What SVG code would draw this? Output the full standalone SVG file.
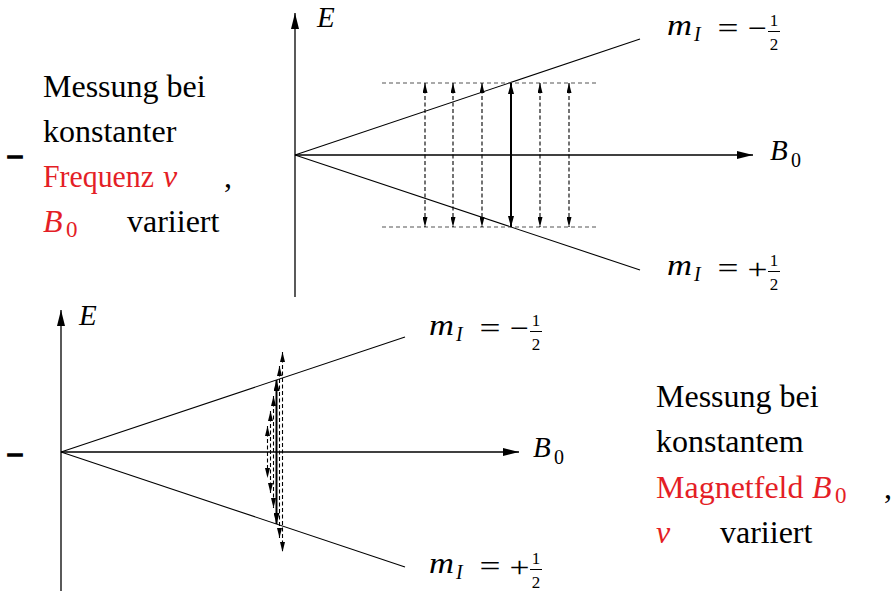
<svg xmlns="http://www.w3.org/2000/svg" width="895" height="591" viewBox="0 0 895 591" font-family="'Liberation Serif', 'DejaVu Serif', serif">
<style>
text{font-family:'Liberation Serif','DejaVu Serif',serif}
.t{font-size:32px;fill:#000}
.red{fill:#e41e26}
.it{font-style:italic}
.mi{font-size:29px;font-style:italic;fill:#000}
.sub{font-size:20px;fill:#000}
.mr{font-size:30px;fill:#000}
.fr{font-size:17px;fill:#000}
.ax{stroke:#000;stroke-width:1.3;fill:none}
.ln{stroke:#000;stroke-width:1.1;fill:none}
.hd{stroke:#555;stroke-width:1.1;stroke-dasharray:4 3;fill:none}
.da{stroke:#000;stroke-width:1.1;stroke-dasharray:4 2.5;fill:none}
.so{stroke:#000;stroke-width:2;fill:none}
.dash{font-size:28px;font-weight:bold;fill:#000;stroke:#000;stroke-width:1.4}
</style>
<defs>
<marker id="axh" viewBox="0 0 16 8" refX="16" refY="4" markerWidth="16" markerHeight="8" markerUnits="userSpaceOnUse" orient="auto-start-reverse"><path d="M0,0 L16,4 L0,8 Z" fill="#000"/></marker>
<marker id="sm" viewBox="0 0 10 5" refX="10" refY="2.5" markerWidth="10" markerHeight="5" markerUnits="userSpaceOnUse" orient="auto-start-reverse"><path d="M0,0 L10,2.5 L0,5 Z" fill="#000"/></marker>
<marker id="md" viewBox="0 0 11 6" refX="11" refY="3" markerWidth="11" markerHeight="6" markerUnits="userSpaceOnUse" orient="auto-start-reverse"><path d="M0,0 L11,3 L0,6 Z" fill="#000"/></marker>
</defs>

<!-- top-left text block -->
<g id="text-top">
<text class="dash" x="8" y="163">–</text>
<text class="t" x="43" y="97">Messung bei</text>
<text class="t" x="43" y="142">konstanter</text>
<text class="t red" x="43" y="187" textLength="111" lengthAdjust="spacingAndGlyphs">Frequenz</text>
<text class="t red it" x="163" y="187">ν</text>
<text class="t" x="224" y="187">,</text>
<text class="t red it" x="43" y="232">B</text>
<text class="t red" x="66" y="237" style="font-size:23px">0</text>
<text class="t" x="127" y="232">variiert</text>
</g>

<!-- top diagram -->
<g id="diagram-top">
<g id="top-axes">
<path class="ax" d="M295,297 L295,13" marker-end="url(#axh)"/>
<path class="ax" d="M295,155 L753,155" marker-end="url(#axh)"/>
</g>
<g id="top-levels">
<path class="ln" d="M295,155 L640,39"/>
<path class="ln" d="M295,155 L640,270"/>
</g>
<g id="top-connectors">
<path class="hd" d="M382,83 H597"/>
<path class="hd" d="M382,227 H597"/>
<path class="da" d="M425,83 V227" marker-start="url(#sm)" marker-end="url(#sm)"/>
<path class="da" d="M453,83 V227" marker-start="url(#sm)" marker-end="url(#sm)"/>
<path class="da" d="M482,83 V227" marker-start="url(#sm)" marker-end="url(#sm)"/>
<path class="so" d="M511,83 V227" marker-start="url(#md)" marker-end="url(#md)"/>
<path class="da" d="M540,83 V227" marker-start="url(#sm)" marker-end="url(#sm)"/>
<path class="da" d="M569,83 V227" marker-start="url(#sm)" marker-end="url(#sm)"/>
</g>
<g id="top-labels">
<text class="mi" x="317" y="27">E</text>
<text class="mi" x="770" y="160">B</text>
<text class="sub" x="791" y="167">0</text>
<g transform="translate(667,35)">
<text class="mi" x="0" y="0" textLength="25" lengthAdjust="spacingAndGlyphs">m</text>
<text class="sub it" x="27" y="6">I</text>
<text class="mr" x="61" y="3" text-anchor="middle" textLength="21" lengthAdjust="spacingAndGlyphs">=</text>
<text class="mr" x="90.5" y="3" text-anchor="middle" textLength="19" lengthAdjust="spacingAndGlyphs">−</text>
<text class="fr" x="107" y="-9" text-anchor="middle">1</text>
<path d="M101,-3.5 H113" stroke="#000" stroke-width="1"/>
<text class="fr" x="107" y="15" text-anchor="middle">2</text>
</g>
<g transform="translate(667,275)">
<text class="mi" x="0" y="0" textLength="25" lengthAdjust="spacingAndGlyphs">m</text>
<text class="sub it" x="27" y="6">I</text>
<text class="mr" x="61" y="3" text-anchor="middle" textLength="21" lengthAdjust="spacingAndGlyphs">=</text>
<text class="mr" x="90.5" y="4" text-anchor="middle" textLength="20" lengthAdjust="spacingAndGlyphs">+</text>
<text class="fr" x="107" y="-9" text-anchor="middle">1</text>
<path d="M101,-3.5 H113" stroke="#000" stroke-width="1"/>
<text class="fr" x="107" y="15" text-anchor="middle">2</text>
</g>
</g>
</g>

<!-- bottom diagram -->
<g id="diagram-bottom">
<g id="bottom-axes">
<path class="ax" d="M61,591 L61,310" marker-end="url(#axh)"/>
<path class="ax" d="M61,452 L519,452" marker-end="url(#axh)"/>
</g>
<g id="bottom-levels">
<path class="ln" d="M61,452 L405,337"/>
<path class="ln" d="M61,452 L405,567"/>
</g>
<g id="bottom-connectors">
<path class="da" d="M267.5,426 V478" marker-start="url(#sm)" marker-end="url(#sm)"/>
<path class="da" d="M270.5,411 V493" marker-start="url(#sm)" marker-end="url(#sm)"/>
<path class="da" d="M273.5,396 V508" marker-start="url(#sm)" marker-end="url(#sm)"/>
<path class="so" d="M276.5,380 V524" marker-start="url(#md)" marker-end="url(#md)"/>
<path class="da" d="M279.5,366 V538" marker-start="url(#sm)" marker-end="url(#sm)"/>
<path class="da" d="M282.5,352 V552" marker-start="url(#sm)" marker-end="url(#sm)"/>
</g>
<g id="bottom-labels">
<text class="mi" x="79" y="325">E</text>
<text class="mi" x="533" y="457">B</text>
<text class="sub" x="554" y="464">0</text>
<g transform="translate(429,335)">
<text class="mi" x="0" y="0" textLength="25" lengthAdjust="spacingAndGlyphs">m</text>
<text class="sub it" x="27" y="6">I</text>
<text class="mr" x="61" y="3" text-anchor="middle" textLength="21" lengthAdjust="spacingAndGlyphs">=</text>
<text class="mr" x="90.5" y="3" text-anchor="middle" textLength="19" lengthAdjust="spacingAndGlyphs">−</text>
<text class="fr" x="107" y="-9" text-anchor="middle">1</text>
<path d="M101,-3.5 H113" stroke="#000" stroke-width="1"/>
<text class="fr" x="107" y="15" text-anchor="middle">2</text>
</g>
<g transform="translate(429,573)">
<text class="mi" x="0" y="0" textLength="25" lengthAdjust="spacingAndGlyphs">m</text>
<text class="sub it" x="27" y="6">I</text>
<text class="mr" x="61" y="3" text-anchor="middle" textLength="21" lengthAdjust="spacingAndGlyphs">=</text>
<text class="mr" x="90.5" y="4" text-anchor="middle" textLength="20" lengthAdjust="spacingAndGlyphs">+</text>
<text class="fr" x="107" y="-9" text-anchor="middle">1</text>
<path d="M101,-3.5 H113" stroke="#000" stroke-width="1"/>
<text class="fr" x="107" y="15" text-anchor="middle">2</text>
</g>
</g>
</g>

<!-- bottom-right text block -->
<g id="text-bottom">
<text class="dash" x="8" y="461">–</text>
<text class="t" x="656" y="407">Messung bei</text>
<text class="t" x="656" y="452">konstantem</text>
<text class="t red" x="656" y="498">Magnetfeld</text>
<text class="t red it" x="812" y="498">B</text>
<text class="t red" x="835" y="503" style="font-size:23px">0</text>
<text class="t" x="884" y="498">,</text>
<text class="t red it" x="656" y="543">ν</text>
<text class="t" x="720" y="543">variiert</text>
</g>
</svg>
